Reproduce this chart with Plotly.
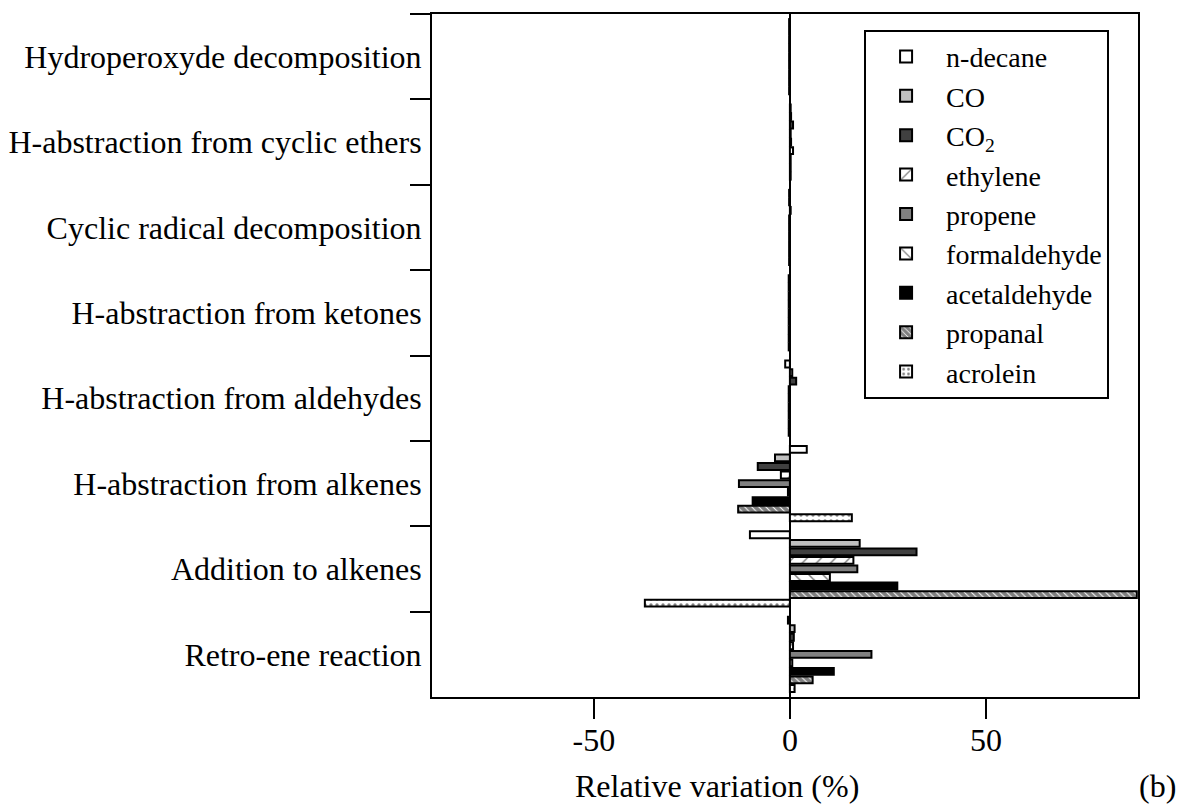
import plotly.graph_objects as go

categories = [
    "Hydroperoxyde decomposition",
    "H-abstraction from cyclic ethers",
    "Cyclic radical decomposition",
    "H-abstraction from ketones",
    "H-abstraction from aldehydes",
    "H-abstraction from alkenes",
    "Addition to alkenes",
    "Retro-ene reaction",
]

n_decane     = [-0.2, 0.2, -0.2, -0.3, -1.2,   4.3, -10.2, -0.5]
co           = [-0.2, 0.3, -0.2, -0.3,  0.6,  -3.8,  17.8,  1.2]
co2          = [-0.2, 0.8,  0.2, -0.3,  1.6,  -8.2,  32.3,  1.0]
ethylene     = [-0.2, 0.2, -0.2, -0.3, -0.3,  -2.3,  16.2,  0.8]
propene      = [-0.2, 0.3, -0.2, -0.3, -0.3, -13.0,  17.2, 20.8]
formaldehyde = [-0.2, 0.8, -0.2, -0.3, -0.3,  -0.5,  10.2,  0.6]
acetaldehyde = [-0.2, 0.2, -0.2, -0.3, -0.3,  -9.5,  27.4, 11.2]
propanal     = [-0.2, 0.2, -0.2, -0.3, -0.3, -13.2,  88.5,  5.8]
acrolein     = [-0.2, 0.2, -0.2, -0.3, -0.3,  15.8, -37.0,  1.2]

x_tickvals = [-50, 0, 50]
x_ticktext = ["-50", "0", "50"]

FONT = "Liberation Serif, Times New Roman, serif"

series = [
    ("n-decane", n_decane, dict(color="white")),
    ("CO", co, dict(color="#c0c0c0")),
    ("CO<sub>2</sub>", co2, dict(color="#404040")),
    ("ethylene", ethylene, dict(color="white", pattern=dict(shape="/", fgcolor="black", bgcolor="white", size=10, solidity=0.15))),
    ("propene", propene, dict(color="#808080")),
    ("formaldehyde", formaldehyde, dict(color="white", pattern=dict(shape="\\", fgcolor="black", bgcolor="white", size=10, solidity=0.15))),
    ("acetaldehyde", acetaldehyde, dict(color="black")),
    ("propanal", propanal, dict(color="white", pattern=dict(shape="\\", fgcolor="black", bgcolor="white", size=5, solidity=0.8))),
    ("acrolein", acrolein, dict(color="white", pattern=dict(shape=".", fgcolor="black", bgcolor="white", size=6, solidity=0.25))),
]

fig = go.Figure()
for name, vals, mk in series:
    marker = dict(mk)
    marker["line"] = dict(color="black", width=2)
    fig.add_trace(go.Bar(
        y=categories, x=vals, name=name, orientation="h",
        marker=marker,
    ))

fig.update_layout(
    width=1179, height=807,
    margin=dict(l=432, r=41, t=14, b=110),
    paper_bgcolor="white", plot_bgcolor="white",
    barmode="group", bargap=0.1, bargroupgap=0.2,
    font=dict(family=FONT, size=32, color="black"),
    legend=dict(
        x=0.612, y=0.977, xanchor="left", yanchor="top",
        bordercolor="black", borderwidth=2, bgcolor="white",
        font=dict(family=FONT, size=28, color="black"),
        itemwidth=70, traceorder="normal",
    ),
    xaxis=dict(
        range=[-91.3, 88.8], tickvals=x_tickvals, ticktext=x_ticktext,
        showline=True, linecolor="black", linewidth=2, mirror=True,
        ticks="outside", ticklen=20, tickwidth=2, tickcolor="black",
        showgrid=False, zeroline=True, zerolinecolor="black", zerolinewidth=1.5,
        tickfont=dict(family=FONT, size=32),
        ticklabelstandoff=-6, automargin=False,
    ),
    yaxis=dict(
        autorange="reversed", type="category",
        showline=True, linecolor="black", linewidth=2, mirror=True,
        ticks="outside", ticklen=20, tickwidth=2, tickcolor="black",
        tickson="boundaries", showgrid=False,
        tickfont=dict(family=FONT, size=32),
        ticklabelstandoff=2, automargin=False,
    ),
    annotations=[
        dict(text="Relative variation (%)", xref="paper", yref="paper",
             x=0.404, y=-0.130, xanchor="center", yanchor="middle",
             showarrow=False, font=dict(family=FONT, size=32)),
        dict(text="(b)", xref="paper", yref="paper",
             x=1.028, y=-0.130, xanchor="center", yanchor="middle",
             showarrow=False, font=dict(family=FONT, size=32)),
    ],
)

fig.write_html("out.html", config={"displayModeBar": False},
               post_script="document.body.style.margin='0';")
